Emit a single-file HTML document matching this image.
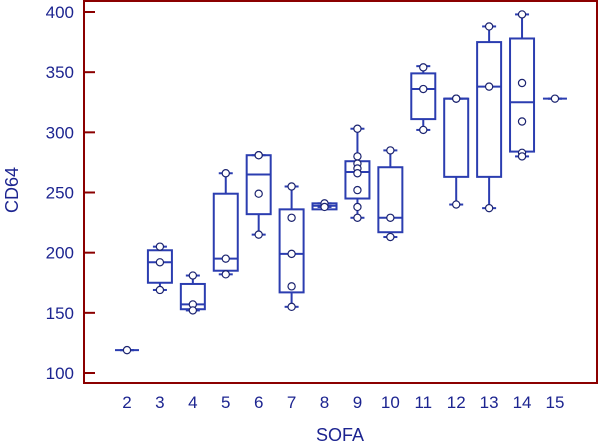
<!DOCTYPE html>
<html><head><meta charset="utf-8"><style>
body{margin:0;background:#fff;}
svg{display:block;font-family:"Liberation Sans",sans-serif;}
</style></head><body>
<svg id="chart" width="600" height="443"></svg>
<script>
const categories=[2,3,4,5,6,7,8,9,10,11,12,13,14,15];
const whiskLow=[119,169,152,182,215,155,238,229,213,302,240,237,280,328];
const q1=[119,175,153,185,232,167,236,245,217,311,263,263,284,328];
const medians=[119,192,157,195,265,199,239,267,229,336,328,338,325,328];
const q3=[119,202,174,249,281,236,241,276,271,349,328,375,378,328];
const whiskHigh=[119,205,181,266,281,255,241,303,285,355,328,388,398,328];
const points=[[119],[205,192,169],[181,157,152],[266,195,182],[281,281,249,215],[255,229,199,172,155],[241,238],[303,280,274,270,266,252,238,229],[285,229,213],[354,336,302],[328,328,240],[388,338,237],[398,341,309,283,280],[328]];
const yTicks=[100,150,200,250,300,350,400];
const NS="http://www.w3.org/2000/svg";
const svg=document.getElementById('chart');
const X=c=>127+(c-2)*32.92;
const Y=v=>373-(v-100)*1.2033;
const blue="#2b3db0",txt="#1c2490";
function mk(t,a,p){const e=document.createElementNS(NS,t);for(const k in a)e.setAttribute(k,a[k]);(p||svg).appendChild(e);return e;}
const frame=mk('rect',{x:84,y:1,width:513,height:382,fill:'none',stroke:'#8b0000','stroke-width':2});


yTicks.forEach(v=>{
  const t=mk('line',{x1:84,x2:95,y1:Y(v),y2:Y(v),stroke:'#8b0000','stroke-width':2});
  
  
  const l=mk('text',{x:74,y:Y(v)+6,'text-anchor':'end','font-size':17,fill:txt});
  l.textContent=v;
  
  
});
categories.forEach((c,i)=>{
  const x=X(c);
  const g=mk('g',{});
  
  
  const s={stroke:blue,'stroke-width':2,fill:'none'};
  mk('line',Object.assign({x1:x,x2:x,y1:Y(whiskHigh[i]),y2:Y(q3[i])},s),g);
  mk('line',Object.assign({x1:x,x2:x,y1:Y(q1[i]),y2:Y(whiskLow[i])},s),g);
  mk('line',Object.assign({x1:x-7,x2:x+7,y1:Y(whiskHigh[i]),y2:Y(whiskHigh[i])},s),g);
  mk('line',Object.assign({x1:x-7,x2:x+7,y1:Y(whiskLow[i]),y2:Y(whiskLow[i])},s),g);
  if(q3[i]!==q1[i]) mk('rect',Object.assign({x:x-12,y:Y(q3[i]),width:24,height:Y(q1[i])-Y(q3[i])},s),g);
  mk('line',Object.assign({x1:x-12,x2:x+12,y1:Y(medians[i]),y2:Y(medians[i])},s),g);
  points[i].forEach(p=>{
    const cc=mk('circle',{cx:x,cy:Y(p),r:3.6,fill:'#fff',stroke:'#1c2470','stroke-width':1.2},g);
    
    
  });
  const l=mk('text',{x:x,y:408,'text-anchor':'middle','font-size':17,fill:txt});
  l.textContent=c;
  
  
});
const xt=mk('text',{x:340,y:441,'text-anchor':'middle','font-size':18,fill:txt});
xt.textContent='SOFA';


const yt=mk('text',{x:0,y:0,'text-anchor':'middle','font-size':18,fill:txt,transform:'translate(18,190) rotate(-90)'});
yt.textContent='CD64';


</script>
</body></html>
